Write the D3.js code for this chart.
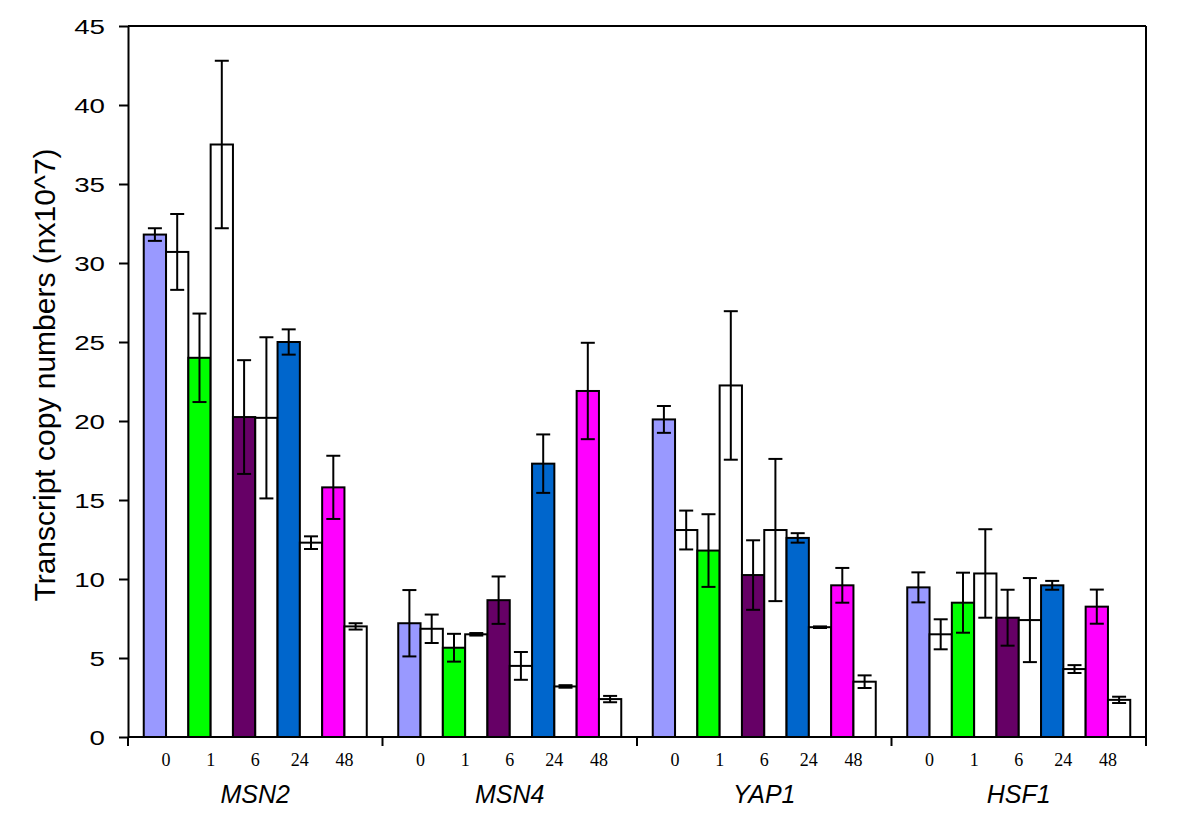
<!DOCTYPE html>
<html>
<head>
<meta charset="utf-8">
<script src="https://cdn.jsdelivr.net/npm/d3@7"></script>
<style>
  body { margin: 0; background: #fff; }
  svg { display: block; }
</style>
</head>
<body>
<svg id="chart" width="1200" height="834"></svg>
<script>
// ---- data ----
const genes = ["MSN2", "MSN4", "YAP1", "HSF1"];
const times = ["0", "1", "6", "24", "48"];
const timeColors = ["#9999ff", "#00ff00", "#660066", "#0066cc", "#ff00ff"];
// coloured (treated) bars, rows = genes, columns = times
const coloredMean = [
  [31.8, 24.0, 20.25, 25.0, 15.8],
  [7.2, 5.65, 8.66, 17.3, 21.9],
  [20.1, 11.8, 10.25, 12.6, 9.6],
  [9.47, 8.5, 7.55, 9.6, 8.25]
];
const coloredErr = [
  [0.4, 2.8, 3.6, 0.8, 2.0],
  [2.1, 0.88, 1.5, 1.85, 3.05],
  [0.85, 2.3, 2.2, 0.3, 1.1],
  [0.95, 1.9, 1.77, 0.28, 1.08]
];
// white (control) bars
const whiteMean = [
  [30.7, 37.5, 20.2, 12.3, 7.0],
  [6.85, 6.5, 4.5, 3.2, 2.4],
  [13.1, 22.25, 13.1, 6.95, 3.5],
  [6.5, 10.35, 7.4, 4.3, 2.35]
];
const whiteErr = [
  [2.4, 5.3, 5.1, 0.4, 0.2],
  [0.9, 0.08, 0.88, 0.08, 0.2],
  [1.23, 4.7, 4.5, 0.05, 0.4],
  [0.95, 2.8, 2.66, 0.25, 0.2]
];
const yTicks = [0, 5, 10, 15, 20, 25, 30, 35, 40, 45];
const yTitle = "Transcript copy numbers (nx10^7)";

// ---- layout ----
const pLeft = 128, pRight = 1146, pTop = 26, pBottom = 737;
const svg = d3.select("#chart");

const x0 = d3.scaleBand().domain(genes).range([pLeft, pRight]).padding(0);
const barKeys = d3.range(10);
const x1 = d3.scaleBand().domain(barKeys).range([0, x0.bandwidth()])
  .paddingInner(0).paddingOuter(0.706);
const y = d3.scaleLinear().domain([0, 45]).range([pBottom, pTop]);

// build bar records
const bars = [];
genes.forEach((g, gi) => {
  times.forEach((t, ti) => {
    bars.push({ gene: g, key: ti * 2, value: coloredMean[gi][ti], err: coloredErr[gi][ti], fill: timeColors[ti] });
    bars.push({ gene: g, key: ti * 2 + 1, value: whiteMean[gi][ti], err: whiteErr[gi][ti], fill: "#ffffff" });
  });
});

// frame (top and right lines)
svg.append("line").attr("x1", pLeft).attr("x2", pRight).attr("y1", pTop).attr("y2", pTop)
  .attr("stroke", "#000").attr("stroke-width", 2);
svg.append("line").attr("x1", pRight).attr("x2", pRight).attr("y1", pTop).attr("y2", pBottom)
  .attr("stroke", "#000").attr("stroke-width", 2);

// bars
svg.append("g").selectAll("rect").data(bars).join("rect")
  .attr("x", d => x0(d.gene) + x1(d.key))
  .attr("y", d => y(d.value))
  .attr("width", x1.bandwidth())
  .attr("height", d => y(0) - y(d.value))
  .attr("fill", d => d.fill)
  .attr("stroke", "#000")
  .attr("stroke-width", 2);

// error bars
const eg = svg.append("g").attr("stroke", "#000").attr("stroke-width", 2);
bars.forEach(d => {
  const cx = x0(d.gene) + x1(d.key) + x1.bandwidth() / 2;
  const yt = y(d.value + d.err), yb = y(d.value - d.err);
  eg.append("line").attr("x1", cx).attr("x2", cx).attr("y1", yt).attr("y2", yb);
  eg.append("line").attr("x1", cx - 7).attr("x2", cx + 7).attr("y1", yt).attr("y2", yt);
  eg.append("line").attr("x1", cx - 7).attr("x2", cx + 7).attr("y1", yb).attr("y2", yb);
});

// y axis
const yAxis = svg.append("g").attr("transform", `translate(${pLeft},0)`)
  .call(d3.axisLeft(y).tickValues(yTicks).tickSize(9).tickPadding(14).tickSizeOuter(0));
yAxis.select(".domain").attr("stroke-width", 2);
yAxis.selectAll(".tick line").attr("stroke-width", 2);
yAxis.selectAll(".tick text")
  .attr("font-family", "'Liberation Sans', Arial, sans-serif")
  .attr("font-size", 21)
  .attr("fill", "#000")
  .attr("x", 0)
  .attr("dy", "0.36em")
  .attr("transform", "translate(-23,0) scale(1.32,1)");

// x axis (group boundary ticks)
const bounds = genes.map(g => x0(g)).concat([pRight]);
const xb = svg.append("g");
xb.append("line").attr("x1", pLeft).attr("x2", pRight).attr("y1", pBottom).attr("y2", pBottom)
  .attr("stroke", "#000").attr("stroke-width", 2);
xb.selectAll("line.bt").data(bounds).join("line").attr("class", "bt")
  .attr("x1", d => d).attr("x2", d => d).attr("y1", pBottom).attr("y2", pBottom + 9)
  .attr("stroke", "#000").attr("stroke-width", 2);

// time labels
const tl = svg.append("g").attr("font-family", "'Liberation Serif', 'Times New Roman', serif")
  .attr("font-size", 18).attr("text-anchor", "middle").attr("fill", "#000");
genes.forEach(g => {
  times.forEach((t, ti) => {
    tl.append("text").attr("x", x0(g) + x1(ti * 2 + 1)).attr("y", 766).text(t);
  });
});

// gene labels
svg.append("g").selectAll("text").data(genes).join("text")
  .attr("x", d => x0(d) + x0.bandwidth() / 2)
  .attr("y", 803)
  .attr("text-anchor", "middle")
  .attr("font-family", "'Liberation Sans', Arial, sans-serif")
  .attr("font-style", "italic")
  .attr("font-size", 25)
  .attr("fill", "#000")
  .text(d => d);

// y title
svg.append("text")
  .attr("transform", "translate(55,375) rotate(-90)")
  .attr("text-anchor", "middle")
  .attr("font-family", "'Liberation Sans', Arial, sans-serif")
  .attr("font-size", 30)
  .attr("fill", "#000")
  .text(yTitle);
</script>
</body>
</html>
